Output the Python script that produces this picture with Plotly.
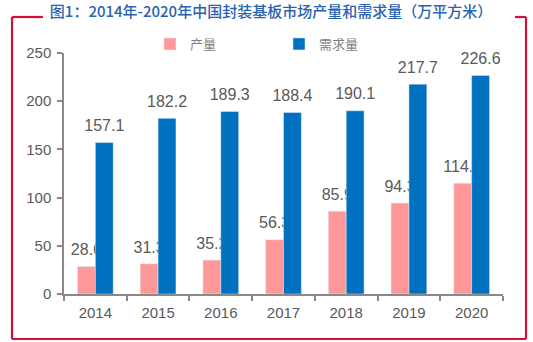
import plotly.graph_objects as go

years = ["2014", "2015", "2016", "2017", "2018", "2019", "2020"]
production = [28.6, 31.3, 35.2, 56.3, 85.9, 94.3, 114.9]
demand = [157.1, 182.2, 189.3, 188.4, 190.1, 217.7, 226.6]
series_names = ["产量", "需求量"]
title_text = "图1：2014年-2020年中国封装基板市场产量和需求量（万平方米）"

W, H = 533, 342
L, R, T, B = 64, 503, 53, 294


def px(p):
    return (p - L) / (R - L)


def py(p):
    return (B - p) / (B - T)


GRAY = "#595959"
AXIS = "#898989"
FRAME = "#D3103B"
PINK = "#FF9999"
BLUE = "#0070C0"
LABEL_FONT = dict(size=16, color=GRAY, family="Liberation Sans, Arial")

fig = go.Figure()
# value labels on the base subplot (drawn beneath the bars of the overlay subplot)
for vals, grp in ((production, "p"), (demand, "d")):
    fig.add_trace(go.Scatter(
        x=years, y=vals, mode="markers+text", offsetgroup=grp,
        marker=dict(size=10, color="rgba(0,0,0,0)"),
        text=[f"{v:.1f}" for v in vals], textposition="top center",
        textfont=LABEL_FONT, showlegend=False, hoverinfo="skip",
        cliponaxis=False, xaxis="x", yaxis="y",
    ))
# bars on overlay subplot
fig.add_trace(go.Bar(x=years, y=production, name=series_names[0], marker_color=PINK,
                     offsetgroup="p", xaxis="x2", yaxis="y2"))
fig.add_trace(go.Bar(x=years, y=demand, name=series_names[1], marker_color=BLUE,
                     offsetgroup="d", xaxis="x2", yaxis="y2"))

frame_segments = [
    ((12, 17), (43, 17)),
    ((12, 17), (12, 339)),
    ((12, 339), (526, 339)),
    ((526, 17), (526, 339)),
    ((515, 17), (526, 17)),
]
shapes = []
for (x0, y0), (x1, y1) in frame_segments:
    shapes.append(dict(type="line", xref="paper", yref="paper",
                       x0=px(x0), y0=py(y0), x1=px(x1), y1=py(y1),
                       line=dict(color=FRAME, width=2.2)))

axis_common = dict(showline=True, linecolor=AXIS, linewidth=1.5,
                   ticks="outside", ticklen=5, tickcolor=AXIS, tickwidth=1.5,
                   tickfont=dict(size=15, color=GRAY), showgrid=False, zeroline=False)

fig.update_layout(
    width=W, height=H, autosize=False,
    margin=dict(l=L, r=W - R, t=T, b=H - B, pad=0),
    paper_bgcolor="white", plot_bgcolor="white",
    barmode="group", bargap=0.43, bargroupgap=0,
    scattermode="group", scattergap=0.43,
    font=dict(family="Liberation Sans, Arial", color=GRAY),
    title=dict(text=title_text, xref="container", yref="container",
               x=271 / W, xanchor="center", y=1 - 12 / H, yanchor="middle",
               font=dict(family="Noto Sans CJK SC", size=15, color="#2B62B0", weight=500)),
    legend=dict(orientation="h", x=px(150), xanchor="left", y=py(44), yanchor="middle",
                font=dict(family="Noto Sans CJK SC", size=13, color="#7F7F7F"),
                entrywidth=84, entrywidthmode="pixels", bgcolor="rgba(0,0,0,0)",
                traceorder="normal"),
    shapes=shapes,
    xaxis=dict(**axis_common, tickson="boundaries", ticklabelstandoff=4,
               categoryorder="array", categoryarray=years),
    yaxis=dict(**axis_common, range=[0, 250], dtick=50, ticklabelstandoff=3),
    xaxis2=dict(overlaying="x", matches="x", visible=False,
                categoryorder="array", categoryarray=years),
    yaxis2=dict(overlaying="y", matches="y", visible=False, range=[0, 250]),
)

fig.write_html("out.html")
